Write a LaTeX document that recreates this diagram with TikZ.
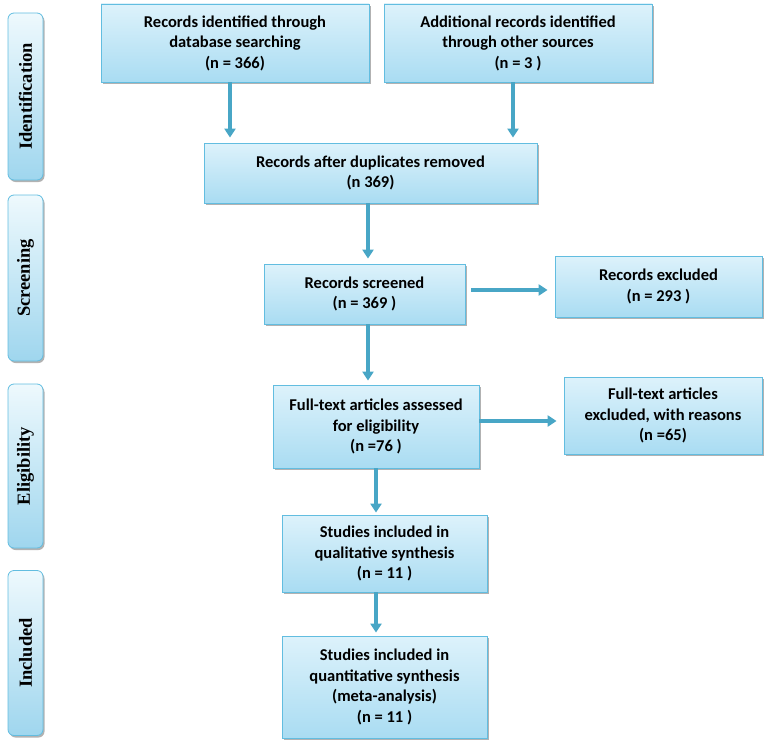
\documentclass[tikz,border=0pt]{standalone}
\usepackage{fontspec}
\setmainfont{Carlito}
\newfontfamily\barfont{Liberation Serif}
\usetikzlibrary{arrows.meta,shadows,calc}
\definecolor{boxtop}{HTML}{DDF2FB}
\definecolor{boxbot}{HTML}{A9DCF2}
\definecolor{boxline}{HTML}{62BDE0}
\definecolor{barlight}{HTML}{EEF9FD}
\definecolor{bardark}{HTML}{9FD6EE}
\definecolor{arrowc}{HTML}{48A6C6}
\begin{document}
\begin{tikzpicture}[x=1pt,y=-1pt,
  box/.style={draw=boxline, line width=0.8pt, top color=boxtop, bottom color=boxbot,
    align=center, inner sep=0pt, font=\bfseries\fontsize{16.5}{20.5}\selectfont,
    drop shadow={shadow xshift=1.5pt, shadow yshift=-2pt, fill=black, opacity=0.3}},
  bar/.style={draw=boxline, line width=0.8pt, rounded corners=6pt, rotate=90,
    top color=barlight, bottom color=bardark, inner sep=0pt, minimum height=35pt,
    font=\barfont\bfseries\fontsize{18.5}{20}\selectfont,
    drop shadow={shadow xshift=1.5pt, shadow yshift=-2pt, fill=black, opacity=0.3}},
  arr/.style={draw=arrowc, line width=3.5pt, -{Triangle[width=11pt,length=9pt]}}]
\useasboundingbox (0,0) rectangle (766,752);

% side bars
\node[bar, minimum width=167pt] (sid) at (25.5,96.5) {Identification};
\node[bar, minimum width=166pt] (ssc) at (25.5,278) {Screening};
\node[bar, minimum width=164pt] (sel) at (25.5,466) {Eligibility};
\node[bar, minimum width=165pt] (sin) at (25.5,653) {Included};

% boxes
\node[box, minimum width=268pt, minimum height=78pt] (b1) at (235,43)
  {Records identified through\\database searching\\(n = 366)};
\node[box, minimum width=268pt, minimum height=78pt] (b2) at (518,43)
  {Additional records identified\\through other sources\\(n = 3 )};
\node[box, minimum width=333pt, minimum height=60pt] (dup) at (370.5,173)
  {Records after duplicates removed\\(n 369)};
\node[box, minimum width=201pt, minimum height=60pt] (scr) at (364.5,294)
  {Records screened\\(n = 369 )};
\node[box, minimum width=207pt, minimum height=61pt] (exc) at (658.5,286.5)
  {Records excluded\\(n = 293 )};
\node[box, minimum width=206pt, minimum height=83pt] (ft) at (376,426.5)
  {Full-text articles assessed\\for eligibility\\(n =76 )};
\node[box, minimum width=198pt, minimum height=77pt] (ftx) at (663,415.5)
  {Full-text articles\\excluded, with reasons\\(n =65)};
\node[box, minimum width=205pt, minimum height=77pt] (qual) at (384.5,553.5)
  {Studies included in\\qualitative synthesis\\(n = 11 )};
\node[box, minimum width=205pt, minimum height=102pt] (quant) at (384.5,687)
  {Studies included in\\quantitative synthesis\\(meta-analysis)\\(n = 11 )};

% connectors
\draw[arr, shorten >=5pt] ([xshift=-5pt]b1.south) -- ([xshift=-5pt]b1.south |- dup.north);
\draw[arr, shorten >=5pt] ([xshift=-5pt]b2.south) -- ([xshift=-5pt]b2.south |- dup.north);
\draw[arr, shorten >=5pt] ([xshift=-2.5pt]dup.south) -- ([xshift=-2.5pt]dup.south |- scr.north);
\draw[arr, shorten >=4pt] ([xshift=3.5pt]scr.south) -- ([xshift=3.5pt]scr.south |- ft.north);
\draw[arr, shorten <=6pt, shorten >=7pt] ([yshift=4pt]scr.east) -- ([yshift=4pt]scr.east -| exc.west);
\draw[arr, shorten >=7pt] ([yshift=5.5pt]ft.east) -- ([yshift=5.5pt]ft.east -| ftx.west);
\draw[arr, shorten >=2pt] (ft.south) -- (ft.south |- qual.north);
\draw[arr, shorten >=3pt] ([xshift=-8.5pt]qual.south) -- ([xshift=-8.5pt]qual.south |- quant.north);
\end{tikzpicture}
\end{document}
